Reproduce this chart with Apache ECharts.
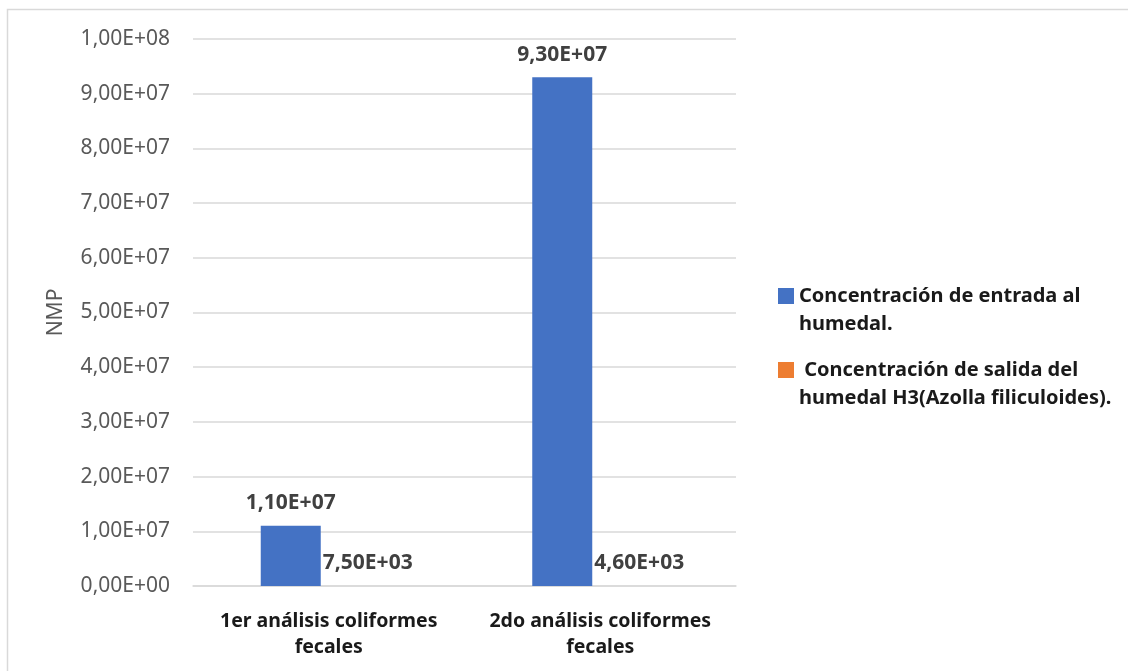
<!DOCTYPE html>
<html>
<head>
<meta charset="utf-8">
<script src="https://cdn.jsdelivr.net/npm/echarts@6/dist/echarts.min.js"></script>
<style>
  html, body { margin: 0; padding: 0; background: #ffffff; }
  #chart { width: 1128px; height: 671px; }
</style>
</head>
<body>
<div id="chart"></div>
<script>
// Coliformes fecales: concentración de entrada y salida del humedal
const categories = ['1er análisis coliformes\nfecales', '2do análisis coliformes\nfecales'];
const seriesNames = [
  'Concentración de entrada al\nhumedal.',
  ' Concentración de salida del\nhumedal H3(Azolla filiculoides).'
];
const entrada = [1.10e7, 9.30e7];
const salida = [7.50e3, 4.60e3];
const yTicks = { min: 0, max: 1.0e8, interval: 1.0e7 };

// Scientific notation with a decimal comma, e.g. 1,10E+07
function sci(v) {
  if (v === 0) return '0,00E+00';
  let exp = Math.floor(Math.log10(Math.abs(v)));
  let m = (v / Math.pow(10, exp)).toFixed(2);
  if (parseFloat(m) >= 10) { exp += 1; m = (v / Math.pow(10, exp)).toFixed(2); }
  const sign = exp < 0 ? '-' : '+';
  const e = String(Math.abs(exp)).padStart(2, '0');
  return m.replace('.', ',') + 'E' + sign + e;
}

const FONT = '"Noto Sans", "Open Sans", sans-serif';
const labelStyle = {
  show: true,
  position: 'top',
  distance: 12,
  fontFamily: FONT,
  fontSize: 21,
  fontWeight: 'bold',
  color: '#404040',
  formatter: p => sci(p.value)
};

// Legend entries: a blank first line keeps the swatch level with the first text line
function legendEntry(name, top) {
  return {
    data: [name],
    left: 778, top: top,
    padding: 0,
    orient: 'vertical',
    itemWidth: 16, itemHeight: 16,
    icon: 'rect',
    formatter: n => '\n' + n,
    textStyle: { fontFamily: FONT, fontSize: 20, fontWeight: 'bold', color: '#1a1a1a', lineHeight: 28 }
  };
}

const chart = echarts.init(document.getElementById('chart'), null, { renderer: 'canvas' });

chart.setOption({
  backgroundColor: '#ffffff',
  animation: false,
  graphic: [{
    type: 'rect',
    silent: true,
    shape: { x: 7.5, y: 9.5, width: 1300, height: 900 },
    style: { fill: 'none', stroke: '#d9d9d9', lineWidth: 1.5 }
  }],
  grid: { left: 193, right: 392, top: 39, bottom: 85, containLabel: false },
  legend: [legendEntry(seriesNames[0], 254), legendEntry(seriesNames[1], 328)],
  xAxis: {
    type: 'category',
    data: categories,
    axisLine: { show: true, lineStyle: { color: '#d9d9d9', width: 1.5 } },
    axisTick: { show: false },
    axisLabel: {
      fontFamily: FONT, fontSize: 19.5, fontWeight: 'bold', color: '#1a1a1a',
      lineHeight: 26, margin: 22, interval: 0
    }
  },
  yAxis: {
    type: 'value',
    min: yTicks.min, max: yTicks.max, interval: yTicks.interval,
    name: 'NMP',
    nameLocation: 'middle',
    nameGap: 126,
    nameRotate: 90,
    nameTextStyle: { fontFamily: FONT, fontSize: 21, color: '#595959' },
    axisLine: { show: false },
    axisTick: { show: false },
    splitLine: { lineStyle: { color: '#d9d9d9', width: 1.5 } },
    axisLabel: {
      fontFamily: FONT, fontSize: 21, color: '#595959', margin: 23,
      formatter: v => sci(v)
    }
  },
  series: [
    {
      name: seriesNames[0],
      type: 'bar',
      data: entrada,
      barWidth: 60,
      barGap: '0%',
      itemStyle: { color: '#4472C4' },
      label: labelStyle
    },
    {
      name: seriesNames[1],
      type: 'bar',
      data: salida,
      barWidth: 76,
      barGap: '0%',
      itemStyle: { color: '#ED7D31' },
      label: Object.assign({}, labelStyle, { offset: [9, 0] })
    }
  ]
});
</script>
</body>
</html>
